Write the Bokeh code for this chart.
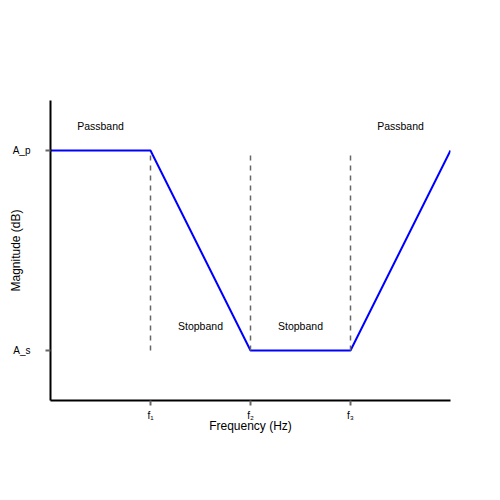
from bokeh.plotting import figure
from bokeh.models import Range1d, FixedTicker, Label
from bokeh.embed import file_html
from bokeh.resources import INLINE

# Data
freq = [0, 1, 2, 3, 4]
mag = [1, 1, 0, 0, 1]
cutoffs = [1, 2, 3]
cutoff_labels = ["f\u2081", "f\u2082", "f\u2083"]
A_s = 0
A_p = 1
level_labels = ["A_s", "A_p"]
band_x = [0.5, 1.5, 2.5, 3.5]
band_y = [1.125, 0.125, 0.125, 1.125]
band_text = ["Passband", "Stopband", "Stopband", "Passband"]

p = figure(width=484, height=484, output_backend="svg", toolbar_location=None,
           x_range=Range1d(0, 4), y_range=Range1d(-0.25, 1.25),
           min_border_left=50, min_border_right=34, min_border_top=100, min_border_bottom=84)
p.outline_line_color = None
p.xgrid.visible = False
p.ygrid.visible = False

p.line(freq, mag, line_color="blue", line_width=2)
for c in cutoffs:
    p.line([c, c], [A_s, A_p], line_color="#666666", line_width=1.5, line_dash="5 5")

for x, y, t in zip(band_x, band_y, band_text):
    p.add_layout(Label(x=x, y=y, text=t, text_align="center", text_baseline="middle",
                       text_font_size="10.5px", text_font="Liberation Sans", text_color="black"))

p.xaxis.ticker = FixedTicker(ticks=cutoffs)
p.xaxis.major_label_overrides = {c: l for c, l in zip(cutoffs, cutoff_labels)}
p.yaxis.ticker = FixedTicker(ticks=[A_s, A_p])
p.yaxis.major_label_overrides = {A_s: level_labels[0], A_p: level_labels[1]}

for ax in (p.xaxis, p.yaxis):
    ax.axis_line_color = "black"
    ax.axis_line_width = 2
    ax.major_tick_line_color = "#666666"
    ax.major_tick_line_width = 2
    ax.major_tick_out = 5
    ax.major_tick_in = 0
    ax.minor_tick_line_color = None
    ax.major_label_text_font = "Liberation Sans"
    ax.major_label_text_font_size = "10px"
    ax.major_label_text_color = "black"
    ax.axis_label_text_font = "Liberation Sans"
    ax.axis_label_text_font_size = "12px"
    ax.axis_label_text_font_style = "normal"
    ax.axis_label_text_color = "black"

p.xaxis.axis_label = "Frequency (Hz)"
p.yaxis.axis_label = "Magnitude (dB)"
p.xaxis.major_label_standoff = 4
p.xaxis.axis_label_standoff = -5
p.yaxis.major_label_standoff = 15
p.yaxis.axis_label_standoff = -13

open("out.html", "w").write(file_html(p, INLINE))
